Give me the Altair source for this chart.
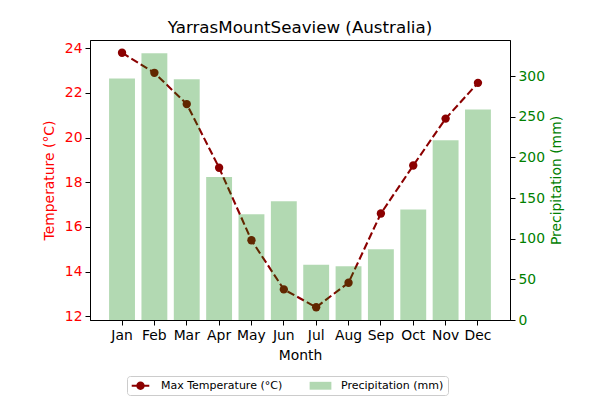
import altair as alt
import pandas as pd

months = ["Jan", "Feb", "Mar", "Apr", "May", "Jun", "Jul", "Aug", "Sep", "Oct", "Nov", "Dec"]
max_temp = [23.8, 22.9, 21.5, 18.65, 15.4, 13.2, 12.4, 13.5, 16.6, 18.75, 20.85, 22.45]
precip = [297, 328, 296, 176, 130, 146, 68, 66, 87, 136, 221, 259]

T_LABEL = "Max Temperature (°C)"
P_LABEL = "Precipitation (mm)"

df = pd.DataFrame({"Month": months, "Temp": max_temp, "Precip": precip})
df["Series"] = T_LABEL

tmin, tmax = min(max_temp), max(max_temp)
tm = (tmax - tmin) * 0.05
temp_domain = [tmin - tm, tmax + tm]
precip_domain = [0, max(precip) * 1.05]

FONT = "DejaVu Sans"
DARKRED = "#8b0000"
MSIZE = 70

x_enc = alt.X("Month:N", sort=months, title="Month",
              scale=alt.Scale(paddingInner=0.2, paddingOuter=0.59),
              axis=alt.Axis(labelAngle=0, tickSize=5, labelPadding=3, titlePadding=7))

y_temp = alt.Y("Temp:Q", scale=alt.Scale(domain=temp_domain, nice=False, zero=False),
               axis=alt.Axis(title="Temperature (°C)", values=[12, 14, 16, 18, 20, 22, 24],
                             labelColor="red", titleColor="red", orient="left",
                             tickSize=5, labelPadding=3, titlePadding=8))

line = alt.Chart(df).mark_line(color=DARKRED, strokeWidth=2.08, strokeDash=[7.7, 3.3]).encode(
    x=x_enc, y=y_temp)

pts = alt.Chart(df).mark_circle(color=DARKRED, size=MSIZE, opacity=1).encode(x=x_enc, y=y_temp)

line_sym = ("M-2.1,-0.24H2.1V0.24H-2.1Z "
            "M-1,0A1,1 0 1,1 1,0A1,1 0 1,1 -1,0Z")
rect_sym = "M-2.6,-0.94H2.6V0.94H-2.6Z"

# legend-only layer: no rows drawn, legend built from the explicit scale domain
legend_layer = alt.Chart(df).transform_filter("false").mark_point(
    filled=True, opacity=1, size=MSIZE).encode(
    x=x_enc, y=y_temp,
    color=alt.Color("Series:N",
                    scale=alt.Scale(domain=[T_LABEL, P_LABEL], range=[DARKRED, "#b2d8b2"]),
                    legend=alt.Legend(title=None, orient="none", direction="horizontal",
                                      legendX=37, legendY=336,
                                      symbolOpacity=1, symbolSize=MSIZE, symbolStrokeWidth=0,
                                      labelFont=FONT, labelFontSize=11, labelColor="black",
                                      strokeColor="#cccccc", fillColor="white",
                                      padding=4, cornerRadius=3, columnPadding=26,
                                      symbolOffset=4, labelOffset=15)),
    shape=alt.Shape("Series:N",
                    scale=alt.Scale(domain=[T_LABEL, P_LABEL], range=[line_sym, rect_sym]),
                    legend=alt.Legend(title=None)),
)

bars = alt.Chart(df).mark_bar(color="#008000", opacity=0.3).encode(
    x=x_enc,
    y=alt.Y("Precip:Q", scale=alt.Scale(domain=precip_domain, nice=False),
            axis=alt.Axis(title="Precipitation (mm)", values=[0, 50, 100, 150, 200, 250, 300],
                          labelColor="green", titleColor="green", orient="right",
                          tickSize=5, labelPadding=3, titlePadding=5, titleAngle=270,
                          titleBaseline="top")),
)

left = alt.layer(line, pts, legend_layer)
chart = alt.layer(left, bars).resolve_scale(y="independent").properties(
    width=420, height=280,
    autosize=alt.AutoSizeParams(type="none"),
    padding={"left": 82, "top": 32, "right": 82, "bottom": 80},
    title=alt.TitleParams("YarrasMountSeaview (Australia)", font=FONT, fontSize=16.7,
                          fontWeight="normal", color="black", offset=3),
).configure_view(stroke="black", strokeWidth=1).configure_axis(
    labelFont=FONT, titleFont=FONT, labelFontSize=13.9, titleFontSize=13.9,
    titleFontWeight="normal", grid=False, domainColor="black", tickColor="black",
    labelColor="black", titleColor="black", domainWidth=1, tickWidth=1,
).configure_legend(labelFont=FONT)

chart.save("out.html", embed_options={"renderer": "svg", "actions": False})
